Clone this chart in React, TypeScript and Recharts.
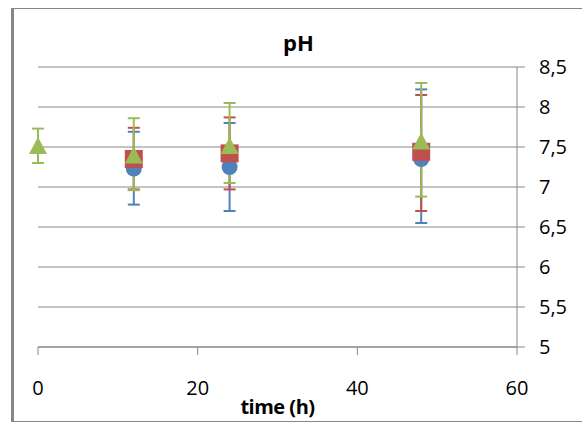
import { ScatterChart, Scatter, XAxis, YAxis, CartesianGrid, ErrorBar } from "recharts";

const greenTimes = [0, 12, 24, 48];
const otherTimes = [12, 24, 48];

const blueValues = [7.23, 7.25, 7.35];
const blueLow = [6.78, 6.7, 6.55];
const blueHigh = [7.69, 7.8, 8.22];

const redValues = [7.35, 7.42, 7.44];
const redLow = [6.97, 6.97, 6.7];
const redHigh = [7.74, 7.87, 8.15];

const greenValues = [7.52, 7.4, 7.52, 7.575];
const greenLow = [7.3, 6.96, 7.05, 6.88];
const greenHigh = [7.73, 7.86, 8.05, 8.3];

const xTicks = [0, 20, 40, 60];
const yTicks = [5, 5.5, 6, 6.5, 7, 7.5, 8, 8.5];

const FONT = "'Open Sans', sans-serif";
const GRID = "#878787";

function build(times: number[], values: number[], low: number[], high: number[]) {
  return times.map((t, i) => ({
    t,
    v: values[i],
    err: [values[i] - low[i], high[i] - values[i]],
  }));
}

const blueData = build(otherTimes, blueValues, blueLow, blueHigh);
const redData = build(otherTimes, redValues, redLow, redHigh);
const greenData = build(greenTimes, greenValues, greenLow, greenHigh);

const Circle = (p: any) => <circle cx={p.cx} cy={p.cy} r={8} fill="#4F81BD" />;
const Square = (p: any) => <rect x={p.cx - 9} y={p.cy - 9} width={18} height={18} fill="#C0504D" />;
const Triangle = (p: any) => (
  <polygon
    points={`${p.cx},${p.cy - 8.5} ${p.cx - 9},${p.cy + 8.5} ${p.cx + 9},${p.cy + 8.5}`}
    fill="#9BBB59"
  />
);

export default function App() {
  return (
    <div style={{ position: "absolute", left: 0, top: 0, width: 582, height: 423, background: "#fff", overflow: "hidden", fontFamily: FONT }}>
      <div
        style={{
          position: "absolute",
          left: 11,
          top: 8,
          width: 600,
          height: 412,
          borderLeft: `3px solid ${GRID}`,
          borderTop: `1px solid ${GRID}`,
          borderBottom: `1px solid ${GRID}`,
        }}
      />
      <div
        style={{
          position: "absolute",
          left: 298.5,
          top: 31,
          transform: "translateX(-50%)",
          fontSize: 22,
          lineHeight: "22px",
          fontWeight: 700,
          whiteSpace: "nowrap",
        }}
      >
        pH
      </div>
      <div
        style={{
          position: "absolute",
          left: 277.5,
          top: 397,
          transform: "translateX(-50%)",
          fontSize: 20,
          lineHeight: "20px",
          fontWeight: 700,
          letterSpacing: -0.5,
          whiteSpace: "nowrap",
        }}
      >
        time (h)
      </div>
      <div style={{ position: "absolute", left: 0, top: 0 }}>
        <ScatterChart width={582} height={423} margin={{ top: 67, right: 0, bottom: 0, left: 38 }}>
          <CartesianGrid horizontal vertical={false} stroke={GRID} />
          <XAxis
            type="number"
            dataKey="t"
            domain={[0, 60]}
            ticks={xTicks}
            height={76}
            tickSize={8}
            tickMargin={26}
            axisLine={{ stroke: GRID }}
            tickLine={{ stroke: GRID }}
            tick={{ fill: "#000", fontSize: 20, fontFamily: FONT }}
          />
          <YAxis
            type="number"
            dataKey="v"
            orientation="right"
            domain={[5, 8.5]}
            ticks={yTicks}
            width={65}
            tickSize={8}
            tickMargin={14}
            axisLine={{ stroke: GRID }}
            tickLine={{ stroke: GRID }}
            tick={{ fill: "#000", fontSize: 20, fontFamily: FONT, textAnchor: "start" }}
            tickFormatter={(v: number) => String(v).replace(".", ",")}
          />
          <Scatter data={blueData} shape={Circle} isAnimationActive={false}>
            <ErrorBar dataKey="err" direction="y" width={6} stroke="#4F81BD" strokeWidth={2} isAnimationActive={false} />
          </Scatter>
          <Scatter data={redData} shape={Square} isAnimationActive={false}>
            <ErrorBar dataKey="err" direction="y" width={6} stroke="#C0504D" strokeWidth={2} isAnimationActive={false} />
          </Scatter>
          <Scatter data={greenData} shape={Triangle} isAnimationActive={false}>
            <ErrorBar dataKey="err" direction="y" width={6} stroke="#9BBB59" strokeWidth={2} isAnimationActive={false} />
          </Scatter>
        </ScatterChart>
      </div>
    </div>
  );
}
